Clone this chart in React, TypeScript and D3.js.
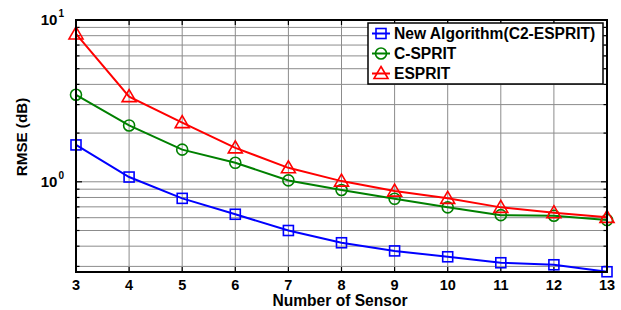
import React from "react";
import * as d3 from "d3";

const sensors = [3, 4, 5, 6, 7, 8, 9, 10, 11, 12, 13];
const newAlgo = [1.69, 1.07, 0.79, 0.63, 0.5, 0.42, 0.374, 0.344, 0.316, 0.307, 0.278];
const cSprit = [3.45, 2.23, 1.58, 1.31, 1.02, 0.89, 0.785, 0.695, 0.622, 0.617, 0.58];
const esprit = [8.2, 3.36, 2.32, 1.62, 1.22, 1.01, 0.876, 0.79, 0.695, 0.644, 0.603];
const seriesNames = ["New Algorithm(C2-ESPRIT)", "C-SPRIT", "ESPRIT"];
const xTicks = [3, 4, 5, 6, 7, 8, 9, 10, 11, 12, 13];
const yMajor = [1, 10];
const yDomain = [0.277, 10];

const W = 621, H = 310;
const L = 76, R = 607, T = 20, B = 272;

export default function App() {
  const x = d3.scaleLinear().domain([3, 13]).range([L, R]);
  const y = d3.scaleLog().domain(yDomain).range([B, T]);
  const minor: number[] = [];
  for (const d of [0.1, 1]) for (let k = 2; k <= 9; k++) {
    const v = d * k;
    if (v >= yDomain[0] && v <= yDomain[1]) minor.push(v);
  }
  const series = [
    { vals: newAlgo, color: "#0000ff", marker: "square" },
    { vals: cSprit, color: "#008000", marker: "circle" },
    { vals: esprit, color: "#ff0000", marker: "triangle" },
  ];
  const line = d3.line<number>().x((_, i) => x(sensors[i])).y((v) => y(v));
  const font = "Liberation Sans, Arial, sans-serif";
  const marker = (m: string, cx: number, cy: number, color: string, key?: any) => {
    if (m === "square") return <rect key={key} x={cx - 5} y={cy - 5} width={10} height={10} fill="none" stroke={color} strokeWidth={1.6} />;
    if (m === "circle") return <circle key={key} cx={cx} cy={cy} r={5.5} fill="none" stroke={color} strokeWidth={1.6} />;
    return <path key={key} d={`M${cx},${cy - 7}L${cx + 7},${cy + 5}L${cx - 7},${cy + 5}Z`} fill="none" stroke={color} strokeWidth={1.6} />;
  };
  const legX = 368, legY = 23, legW = 235, legH = 61;
  return (
    <svg width={W} height={H} style={{ position: "absolute", left: 0, top: 0 }} fontFamily={font}>
      <rect x={0} y={0} width={W} height={H} fill="#fff" />
      {/* grid */}
      {xTicks.map((t) => (
        <line key={"gx" + t} x1={x(t)} x2={x(t)} y1={T} y2={B} stroke="#8c8c8c" strokeWidth={1} />
      ))}
      {minor.concat(yMajor).map((v) => (
        <line key={"gy" + v} x1={L} x2={R} y1={y(v)} y2={y(v)} stroke="#8c8c8c" strokeWidth={1} />
      ))}
      {/* ticks */}
      {xTicks.map((t) => (
        <g key={"tx" + t}>
          <line x1={x(t)} x2={x(t)} y1={B} y2={B - 5} stroke="#000" strokeWidth={1.2} />
          <line x1={x(t)} x2={x(t)} y1={T} y2={T + 5} stroke="#000" strokeWidth={1.2} />
          <text x={x(t)} y={290} textAnchor="middle" fontSize={14.5} fontWeight="bold">{t}</text>
        </g>
      ))}
      {minor.concat(yMajor).map((v) => {
        const len = yMajor.includes(v) ? 6 : 3.5;
        return (
          <g key={"ty" + v}>
            <line x1={L} x2={L + len} y1={y(v)} y2={y(v)} stroke="#000" strokeWidth={1.2} />
            <line x1={R} x2={R - len} y1={y(v)} y2={y(v)} stroke="#000" strokeWidth={1.2} />
          </g>
        );
      })}
      {yMajor.map((v) => (
        <text key={"yl" + v} x={64} y={y(v) + 5} textAnchor="end" fontSize={15} fontWeight="bold">
          10
          <tspan fontSize={10} dx={1} dy={-8}>{Math.round(Math.log10(v))}</tspan>
        </text>
      ))}
      {/* lines */}
      {series.map((s, si) => (
        <g key={"s" + si}>
          <path d={line(s.vals) || ""} fill="none" stroke={s.color} strokeWidth={2} />
          {s.vals.map((v, i) => marker(s.marker, x(sensors[i]), y(v), s.color, i))}
        </g>
      ))}
      {/* box */}
      <rect x={L} y={T} width={R - L} height={B - T} fill="none" stroke="#000" strokeWidth={2} />
      {/* legend */}
      <rect x={legX} y={legY} width={legW} height={legH} fill="#fff" stroke="#000" strokeWidth={1.5} />
      {series.map((s, i) => {
        const cy = legY + 10.5 + i * 20;
        return (
          <g key={"lg" + i}>
            <line x1={372} x2={390} y1={cy} y2={cy} stroke={s.color} strokeWidth={2} />
            {marker(s.marker, 381, cy, s.color)}
            <text x={394} y={cy + 5.5} fontSize={15.6} fontWeight="bold">{seriesNames[i]}</text>
          </g>
        );
      })}
      {/* axis labels */}
      <text x={340} y={305.5} textAnchor="middle" fontSize={15.6} fontWeight="bold">Number of Sensor</text>
      <text transform={`translate(26.5,137) rotate(-90)`} textAnchor="middle" fontSize={15.2} fontWeight="bold">RMSE (dB)</text>
    </svg>
  );
}
